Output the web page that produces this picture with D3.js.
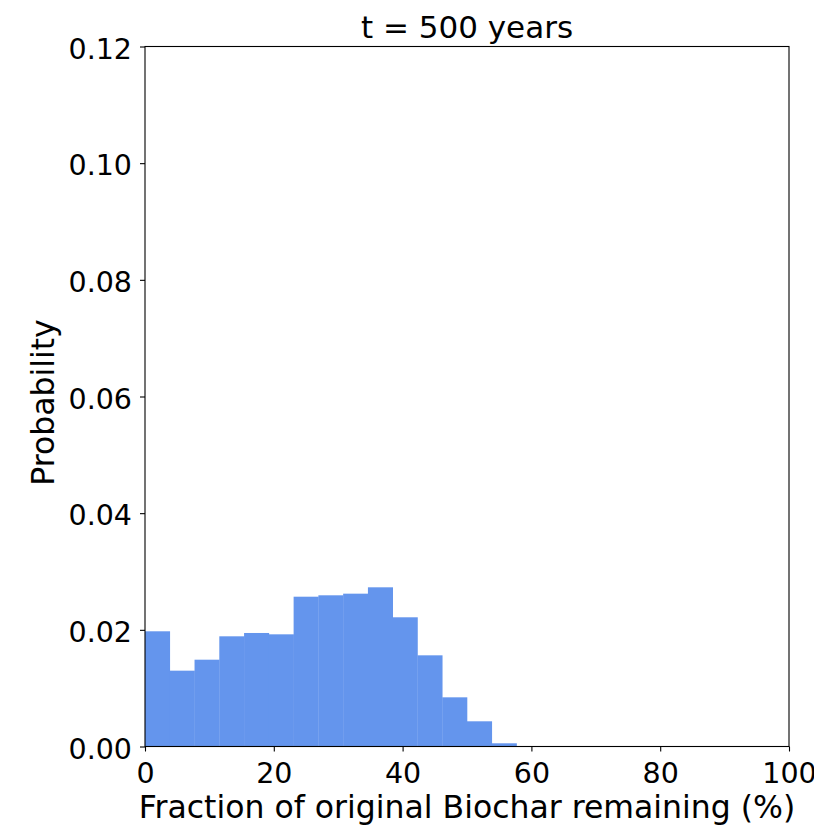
<!DOCTYPE html>
<html>
<head>
<meta charset="utf-8">
<script src="https://cdn.jsdelivr.net/npm/d3@7"></script>
<style>
  html, body { margin: 0; padding: 0; background: #fff; }
  svg { display: block; }
  text { font-family: "DejaVu Sans", sans-serif; fill: #000; }
</style>
</head>
<body>
<svg id="chart" width="814" height="826"></svg>
<script>
// Histogram of remaining biochar fraction after 500 years (26 equal bins over 0–100 %)
const binCount = 26;
const probabilities = [
  0.01975, 0.0130, 0.01488, 0.01889, 0.01946, 0.01923, 0.02568, 0.02592,
  0.02620, 0.02729, 0.02215, 0.01563, 0.00843, 0.00432, 0.00055, 0,
  0, 0, 0, 0, 0, 0, 0, 0, 0, 0
];
const xTicks = [0, 20, 40, 60, 80, 100];
const yTicks = [0, 0.02, 0.04, 0.06, 0.08, 0.10, 0.12];
const titleText = "t = 500 years";
const xLabelText = "Fraction of original Biochar remaining (%)";
const yLabelText = "Probability";

const bins = probabilities.map((p, i) => ({
  x0: i * 100 / binCount,
  x1: (i + 1) * 100 / binCount,
  p
}));

const margin = { left: 145, right: 789, top: 46.5, bottom: 746.5 };
const tickFs = 28.5;   // tick labels
const labelFs = 31.5;  // axis labels
const titleFs = 31;
const tickLen = 5, tickPad = 8;

const svg = d3.select("#chart");

const x = d3.scaleLinear().domain([0, 100]).range([margin.left, margin.right]);
const y = d3.scaleLinear().domain([0, 0.12]).range([margin.bottom, margin.top]);

// bars
svg.append("g")
  .selectAll("rect")
  .data(bins.filter(d => d.p > 0))
  .join("rect")
  .attr("x", d => x(d.x0))
  .attr("width", d => x(d.x1) - x(d.x0) + 0.3)
  .attr("y", d => y(d.p))
  .attr("height", d => y(0) - y(d.p))
  .attr("fill", "#6495ED");

// x axis
const xAxis = d3.axisBottom(x)
  .tickValues(xTicks)
  .tickFormat(d3.format("d"))
  .tickSizeInner(tickLen)
  .tickSizeOuter(0)
  .tickPadding(tickPad);
const gx = svg.append("g")
  .attr("transform", `translate(0,${margin.bottom})`)
  .call(xAxis);
gx.select(".domain").remove();
gx.selectAll(".tick line").attr("stroke", "#000").attr("stroke-width", 1.1);
gx.selectAll(".tick text")
  .attr("font-size", tickFs)
  .attr("font-family", "DejaVu Sans")
  .attr("fill", "#000")
  .attr("dy", null)
  .attr("y", 36.2);

// y axis
const yAxis = d3.axisLeft(y)
  .tickValues(yTicks)
  .tickFormat(d3.format(".2f"))
  .tickSizeInner(tickLen)
  .tickSizeOuter(0)
  .tickPadding(tickPad);
const gy = svg.append("g")
  .attr("transform", `translate(${margin.left},0)`)
  .call(yAxis);
gy.select(".domain").remove();
gy.selectAll(".tick line").attr("stroke", "#000").attr("stroke-width", 1.1);
gy.selectAll(".tick text")
  .attr("font-size", tickFs)
  .attr("font-family", "DejaVu Sans")
  .attr("fill", "#000")
  .attr("dy", null)
  .attr("y", 11.5);

// frame
svg.append("rect")
  .attr("x", margin.left)
  .attr("y", margin.top)
  .attr("width", margin.right - margin.left)
  .attr("height", margin.bottom - margin.top)
  .attr("fill", "none")
  .attr("stroke", "#000")
  .attr("stroke-width", 1.1);

// title
svg.append("text")
  .attr("x", (margin.left + margin.right) / 2)
  .attr("y", 38)
  .attr("text-anchor", "middle")
  .attr("font-size", titleFs)
  .text(titleText);

// x label
svg.append("text")
  .attr("x", (margin.left + margin.right) / 2)
  .attr("y", 818)
  .attr("text-anchor", "middle")
  .attr("font-size", labelFs)
  .text(xLabelText);

// y label
svg.append("text")
  .attr("transform", `translate(53.5,${(margin.top + margin.bottom) / 2 + 6}) rotate(-90)`)
  .attr("text-anchor", "middle")
  .attr("font-size", labelFs)
  .text(yLabelText);
</script>
</body>
</html>
